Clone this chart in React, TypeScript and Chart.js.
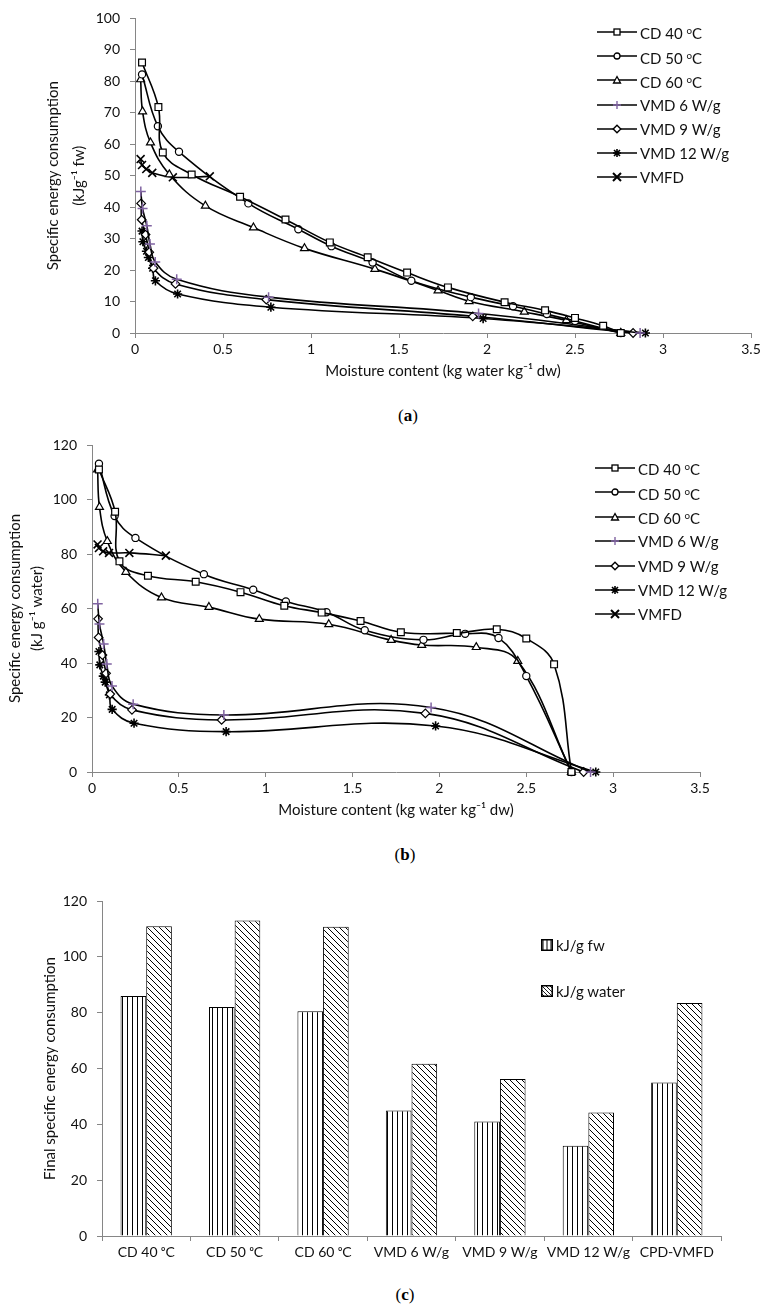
import React, { useEffect, useRef } from "react";
import { Chart, registerables } from "chart.js";

Chart.register(...registerables);

const FONT = "Lato, 'DejaVu Sans', sans-serif";
const AXIS_GRAY = "#868686";
const PURPLE = "#8064A2";
const TEXT = "#111";

// ---------- data: moisture content (x) per series ----------
const cd40X = [0.04, 0.133, 0.158, 0.322, 0.597, 0.855, 1.107, 1.322, 1.546, 1.778, 2.1, 2.33, 2.5, 2.66, 2.76];
const cd40Fw = [86, 71.8, 57.4, 50.4, 43.3, 36.1, 28.8, 24.1, 19.2, 14.5, 9.8, 7.2, 4.8, 2.3, 0];
const cd40Water = [111, 95.5, 77.3, 72, 69.8, 66, 61, 58.5, 55.4, 51.3, 51, 52.4, 49, 39.5, 0];

const cd50X = [0.04, 0.13, 0.25, 0.644, 0.928, 1.116, 1.35, 1.57, 1.908, 2.148, 2.34, 2.5, 2.76];
const cd50Fw = [82.2, 65.7, 57.6, 41.2, 33.0, 27.6, 22.4, 16.6, 11.4, 8.5, 6.0, 3.8, 0];
const cd50Water = [113.1, 93.9, 85.9, 72.6, 66.9, 62.6, 58.6, 52, 48.5, 50.7, 49.2, 35.2, 0];

const cd60X = [0.032, 0.043, 0.088, 0.195, 0.4, 0.673, 0.963, 1.363, 1.722, 1.898, 2.212, 2.451, 2.76];
const cd60Fw = [80.6, 70.4, 60.5, 50.4, 40.4, 33.5, 26.9, 20.3, 13.5, 10.1, 6.7, 4.0, 0];
const cd60Water = [111, 97.2, 84.7, 73.4, 64, 60.5, 56.1, 54.2, 48.4, 46.6, 45.8, 40.7, 0];

const vmd6X = [0.033, 0.043, 0.067, 0.085, 0.115, 0.237, 0.759, 1.952, 2.87];
const vmd6Fw = [45.0, 39.6, 34.1, 28.3, 22.6, 17.1, 11.4, 6.2, 0];
const vmd6Water = [61.7, 54.3, 47.0, 39.6, 31.6, 24.9, 20.9, 23.7, 0];

const vmd9X = [0.035, 0.038, 0.06, 0.081, 0.105, 0.23, 0.746, 1.919, 2.83];
const vmd9Fw = [41.2, 36.0, 31.3, 25.7, 20.6, 15.6, 10.6, 5.3, 0];
const vmd9Water = [56.2, 49.4, 42.9, 36.2, 28.6, 22.8, 19.1, 21.5, 0];

const vmd12X = [0.04, 0.045, 0.065, 0.076, 0.1, 0.116, 0.242, 0.772, 1.978, 2.9];
const vmd12Fw = [32.4, 29.0, 26.0, 24.0, 20.6, 16.6, 12.4, 8.2, 4.6, 0];
const vmd12Water = [44.2, 39.3, 35.2, 33.0, 28.3, 23.0, 17.9, 14.8, 16.9, 0];

const vmfdX = [0.032, 0.04, 0.064, 0.098, 0.215, 0.425];
const vmfdFw = [55.3, 53.4, 52.1, 50.9, 49.5, 49.8];
const vmfdWater = [83.5, 82.2, 81.0, 80.4, 80.4, 79.4];

// ---------- bar chart (c) ----------
const barCategories = ["CD 40 ᵒC", "CD 50 ᵒC", "CD 60 ᵒC", "VMD 6 W/g", "VMD 9 W/g", "VMD 12 W/g", "CPD-VMFD"];
const barFw = [86, 82, 80.5, 45, 41, 32.3, 55];
const barWater = [111, 113, 110.8, 61.7, 56.2, 44.2, 83.5];

// ---------- series styling ----------
const SERIES = [
  { label: "CD 40 ᵒC", x: cd40X, fw: cd40Fw, water: cd40Water, style: "rect", radius: 4.8, color: "#000", bw: 1.2 },
  { label: "CD 50 ᵒC", x: cd50X, fw: cd50Fw, water: cd50Water, style: "circle", radius: 3.6, color: "#000", bw: 1.2 },
  { label: "CD 60 ᵒC", x: cd60X, fw: cd60Fw, water: cd60Water, style: "triangle", radius: 4.6, color: "#000", bw: 1.2 },
  { label: "VMD 6 W/g", x: vmd6X, fw: vmd6Fw, water: vmd6Water, style: "cross", radius: 5, color: PURPLE, bw: 1.5 },
  { label: "VMD 9 W/g", x: vmd9X, fw: vmd9Fw, water: vmd9Water, style: "rectRot", radius: 4.3, color: "#000", bw: 1.2 },
  { label: "VMD 12 W/g", x: vmd12X, fw: vmd12Fw, water: vmd12Water, style: "star", radius: 4.6, color: "#000", bw: 1.6 },
  { label: "VMFD", x: vmfdX, fw: vmfdFw, water: vmfdWater, style: "crossRot", radius: 5.6, color: "#000", bw: 1.6 },
];

type Geo = {
  top: number; height: number; width: number;
  areaTop: number; areaBottom: number; areaLeft: number; areaRight: number; xH: number;
};

function lineConfig(kind: "fw" | "water", geo: Geo, yMax: number, yStep: number, yTitle: string[], yTitleLH: number, yTitlePad: number): any {
  return {
    type: "line",
    data: {
      datasets: SERIES.map((s) => ({
        label: s.label,
        data: s.x.map((x, i) => ({ x, y: kind === "fw" ? s.fw[i] : s.water[i] })),
        borderColor: "#000",
        borderWidth: 1.6,
        tension: 0.4,
        fill: false,
        pointStyle: s.style,
        pointRadius: s.radius,
        pointBorderColor: s.color,
        pointBackgroundColor: "#fff",
        pointBorderWidth: s.bw,
        clip: false,
      })),
    },
    options: {
      responsive: false,
      animation: false,
      events: [],
      layout: {
        padding: {
          left: 0,
          top: geo.areaTop - geo.top,
          right: geo.width - geo.areaRight,
          bottom: geo.top + geo.height - geo.areaBottom - geo.xH,
        },
      },
      plugins: { legend: { display: false }, tooltip: { enabled: false } },
      scales: {
        x: {
          type: "linear",
          min: 0,
          max: 3.5,
          ticks: {
            stepSize: 0.5,
            color: TEXT,
            font: { family: FONT, size: 14 },
            padding: 3,
            callback: (v: number) => String(v),
          },
          grid: { display: true, drawOnChartArea: false, drawTicks: true, tickLength: 5, color: AXIS_GRAY },
          border: { color: AXIS_GRAY, width: 1 },
          title: {
            display: true,
            text: "Moisture content (kg water kg⁻¹ dw)",
            color: TEXT,
            font: { family: FONT, size: 15, lineHeight: 1.2 },
            padding: { top: 0, bottom: 3 },
          },
          afterFit: (scale: any) => { scale.height = geo.xH; },
        },
        y: {
          min: 0,
          max: yMax,
          ticks: { stepSize: yStep, color: TEXT, font: { family: FONT, size: 14 }, padding: 10 },
          grid: { display: true, drawOnChartArea: false, drawTicks: true, tickLength: 5, color: AXIS_GRAY },
          border: { color: AXIS_GRAY, width: 1 },
          title: {
            display: true,
            text: yTitle,
            color: TEXT,
            font: { family: FONT, size: 15, lineHeight: yTitleLH / 15 },
            padding: { top: yTitlePad, bottom: 0 },
          },
          afterFit: (scale: any) => { scale.width = geo.areaLeft; },
        },
      },
    },
  };
}

const GEO_A: Geo = { top: 0, height: 400, width: 769, areaTop: 14, areaBottom: 333, areaLeft: 135, areaRight: 751, xH: 50 };
const GEO_B: Geo = { top: 420, height: 420, width: 769, areaTop: 445, areaBottom: 772, areaLeft: 92, areaRight: 700, xH: 50 };
const GEO_C: Geo = { top: 870, height: 410, width: 769, areaTop: 901, areaBottom: 1236, areaLeft: 102, areaRight: 721, xH: 30 };

function stripePattern(ctx: CanvasRenderingContext2D) {
  const c = document.createElement("canvas");
  c.width = 5; c.height = 5;
  const g = c.getContext("2d")!;
  g.fillStyle = "#fff"; g.fillRect(0, 0, 5, 5);
  g.fillStyle = "#000"; g.fillRect(2, 0, 1, 5);
  return ctx.createPattern(c, "repeat");
}

function diagPattern(ctx: CanvasRenderingContext2D) {
  const s = 6;
  const c = document.createElement("canvas");
  c.width = s; c.height = s;
  const g = c.getContext("2d")!;
  g.fillStyle = "#fff"; g.fillRect(0, 0, s, s);
  g.strokeStyle = "#000"; g.lineWidth = 1;
  for (const o of [-s, 0, s]) {
    g.beginPath(); g.moveTo(o - 1, -1); g.lineTo(o + s + 1, s + 1); g.stroke();
  }
  return ctx.createPattern(c, "repeat");
}

function barConfig(ctx: CanvasRenderingContext2D, geo: Geo): any {
  return {
    type: "bar",
    data: {
      labels: barCategories,
      datasets: [
        { label: "kJ/g fw", data: barFw, backgroundColor: stripePattern(ctx), borderColor: "#000", borderWidth: 1 },
        { label: "kJ/g water", data: barWater, backgroundColor: diagPattern(ctx), borderColor: "#000", borderWidth: 1 },
      ],
    },
    options: {
      responsive: false,
      animation: false,
      events: [],
      categoryPercentage: 0.58,
      barPercentage: 1,
      layout: {
        padding: {
          left: 0,
          top: geo.areaTop - geo.top,
          right: geo.width - geo.areaRight,
          bottom: geo.top + geo.height - geo.areaBottom - geo.xH,
        },
      },
      plugins: { legend: { display: false }, tooltip: { enabled: false } },
      scales: {
        x: {
          ticks: { color: TEXT, font: { family: FONT, size: 14 }, padding: 3, maxRotation: 0, autoSkip: false },
          grid: { display: true, offset: true, drawOnChartArea: false, drawTicks: true, tickLength: 5, color: AXIS_GRAY },
          border: { color: AXIS_GRAY, width: 1 },
          afterFit: (scale: any) => { scale.height = geo.xH; },
        },
        y: {
          min: 0,
          max: 120,
          ticks: { stepSize: 20, color: TEXT, font: { family: FONT, size: 14 }, padding: 10 },
          grid: { display: true, drawOnChartArea: false, drawTicks: true, tickLength: 5, color: AXIS_GRAY },
          border: { color: AXIS_GRAY, width: 1 },
          title: {
            display: true,
            text: "Final specific energy consumption",
            color: TEXT,
            font: { family: FONT, size: 15, lineHeight: 1.2 },
            padding: { top: 41, bottom: 0 },
          },
          afterFit: (scale: any) => { scale.width = geo.areaLeft; },
        },
      },
    },
  };
}

function ChartCanvas({ geo, make }: { geo: Geo; make: (ctx: CanvasRenderingContext2D) => any }) {
  const ref = useRef<HTMLCanvasElement | null>(null);
  useEffect(() => {
    const canvas = ref.current!;
    const ctx = canvas.getContext("2d")!;
    const chart = new Chart(ctx, make(ctx));
    return () => chart.destroy();
  }, []);
  return (
    <canvas
      ref={ref}
      width={geo.width}
      height={geo.height}
      style={{ position: "absolute", left: 0, top: geo.top, width: geo.width, height: geo.height }}
    />
  );
}

function LegendMarker({ style, color }: { style: string; color: string }) {
  const cx = 20, cy = 7;
  switch (style) {
    case "rect":
      return <rect x={cx - 3} y={cy - 3} width={6} height={6} fill="#fff" stroke="#000" strokeWidth={1.3} />;
    case "circle":
      return <circle cx={cx} cy={cy} r={3} fill="#fff" stroke="#000" strokeWidth={1.3} />;
    case "triangle":
      return <polygon points={`${cx},${cy - 3.5} ${cx + 3.5},${cy + 3} ${cx - 3.5},${cy + 3}`} fill="#fff" stroke="#000" strokeWidth={1.3} />;
    case "cross":
      return <path d={`M${cx} ${cy - 4} V${cy + 4} M${cx - 4} ${cy} H${cx + 4}`} stroke={color} strokeWidth={1.4} />;
    case "rectRot":
      return <polygon points={`${cx},${cy - 3.8} ${cx + 3.8},${cy} ${cx},${cy + 3.8} ${cx - 3.8},${cy}`} fill="#fff" stroke="#000" strokeWidth={1.4} />;
    case "star":
      return <path d={`M${cx} ${cy - 4} V${cy + 4} M${cx - 4} ${cy} H${cx + 4} M${cx - 3} ${cy - 3} L${cx + 3} ${cy + 3} M${cx - 3} ${cy + 3} L${cx + 3} ${cy - 3}`} stroke="#000" strokeWidth={1.6} />;
    case "crossRot":
      return <path d={`M${cx - 4} ${cy - 4} L${cx + 4} ${cy + 4} M${cx - 4} ${cy + 4} L${cx + 4} ${cy - 4}`} stroke="#000" strokeWidth={2} />;
  }
  return null;
}

function renderLabel(label: string) {
  const parts = label.split("ᵒ");
  if (parts.length === 1) return label;
  return (
    <>
      {parts[0]}
      <sup style={{ fontSize: "0.65em", verticalAlign: "0.55em" }}>o</sup>
      {parts[1]}
    </>
  );
}

function LineLegend({ left, firstY, step }: { left: number; firstY: number; step: number }) {
  return (
    <>
      {SERIES.map((s, i) => (
        <div
          key={s.label}
          style={{
            position: "absolute",
            left,
            top: firstY + i * step - 10,
            height: 20,
            display: "flex",
            alignItems: "center",
            fontFamily: FONT,
            fontSize: 15,
            color: TEXT,
            whiteSpace: "nowrap",
            lineHeight: "20px",
          }}
        >
          <svg width={40} height={14} style={{ display: "block" }}>
            <line x1={0} y1={7} x2={40} y2={7} stroke="#000" strokeWidth={1.6} />
            <LegendMarker style={s.style} color={s.color} />
          </svg>
          <span style={{ marginLeft: 3 }}>{renderLabel(s.label)}</span>
        </div>
      ))}
    </>
  );
}

function BarLegend() {
  const rows = [
    { label: "kJ/g fw", id: "pfw", y: 945 },
    { label: "kJ/g water", id: "pwater", y: 991 },
  ];
  return (
    <>
      <svg width={0} height={0} style={{ position: "absolute" }}>
        <defs>
          <pattern id="pfw" width={4} height={4} patternUnits="userSpaceOnUse">
            <rect width={4} height={4} fill="#fff" />
            <rect x={1.5} width={1} height={4} fill="#000" />
          </pattern>
          <pattern id="pwater" width={4} height={4} patternUnits="userSpaceOnUse">
            <rect width={4} height={4} fill="#fff" />
            <path d="M-1,-1 L5,5 M-5,-1 L1,5 M3,-1 L9,5" stroke="#000" strokeWidth={0.9} />
          </pattern>
        </defs>
      </svg>
      {rows.map((r) => (
        <div
          key={r.id}
          style={{
            position: "absolute",
            left: 541,
            top: r.y - 10,
            height: 20,
            display: "flex",
            alignItems: "center",
            fontFamily: FONT,
            fontSize: 15,
            color: TEXT,
            whiteSpace: "nowrap",
          }}
        >
          <svg width={12} height={12} style={{ display: "block" }}>
            <rect x={0.75} y={0.75} width={10.5} height={10.5} fill={`url(#${r.id})`} stroke="#000" strokeWidth={1.5} />
          </svg>
          <span style={{ marginLeft: 3 }}>{r.label}</span>
        </div>
      ))}
    </>
  );
}

function Caption({ letter, x, y }: { letter: string; x: number; y: number }) {
  return (
    <div
      style={{
        position: "absolute",
        left: x - 15,
        width: 30,
        top: y - 10,
        textAlign: "center",
        fontFamily: "'Liberation Serif', 'DejaVu Serif', serif",
        fontSize: 17,
        lineHeight: "20px",
        color: "#000",
      }}
    >
      (<b>{letter}</b>)
    </div>
  );
}

export default function App() {
  useEffect(() => {
    document.documentElement.style.overflow = "hidden";
    document.body.style.overflow = "hidden";
  }, []);
  return (
    <div style={{ position: "absolute", left: 0, top: 0, width: 769, height: 1309, background: "#fff" }}>
      <ChartCanvas
        geo={GEO_A}
        make={() => lineConfig("fw", GEO_A, 100, 10, ["Specific energy consumption", "(kJg⁻¹ fw)"], 26, 40)}
      />
      <LineLegend left={597} firstY={32} step={24.2} />
      <Caption letter="a" x={408} y={416} />

      <ChartCanvas
        geo={GEO_B}
        make={() => lineConfig("water", GEO_B, 120, 20, ["Specific energy consumption", "(kJ g⁻¹ water)"], 22, 4)}
      />
      <LineLegend left={595} firstY={468} step={24.4} />
      <Caption letter="b" x={405} y={855} />

      <ChartCanvas geo={GEO_C} make={(ctx) => barConfig(ctx, GEO_C)} />
      <BarLegend />
      <Caption letter="c" x={405} y={1295} />
    </div>
  );
}
